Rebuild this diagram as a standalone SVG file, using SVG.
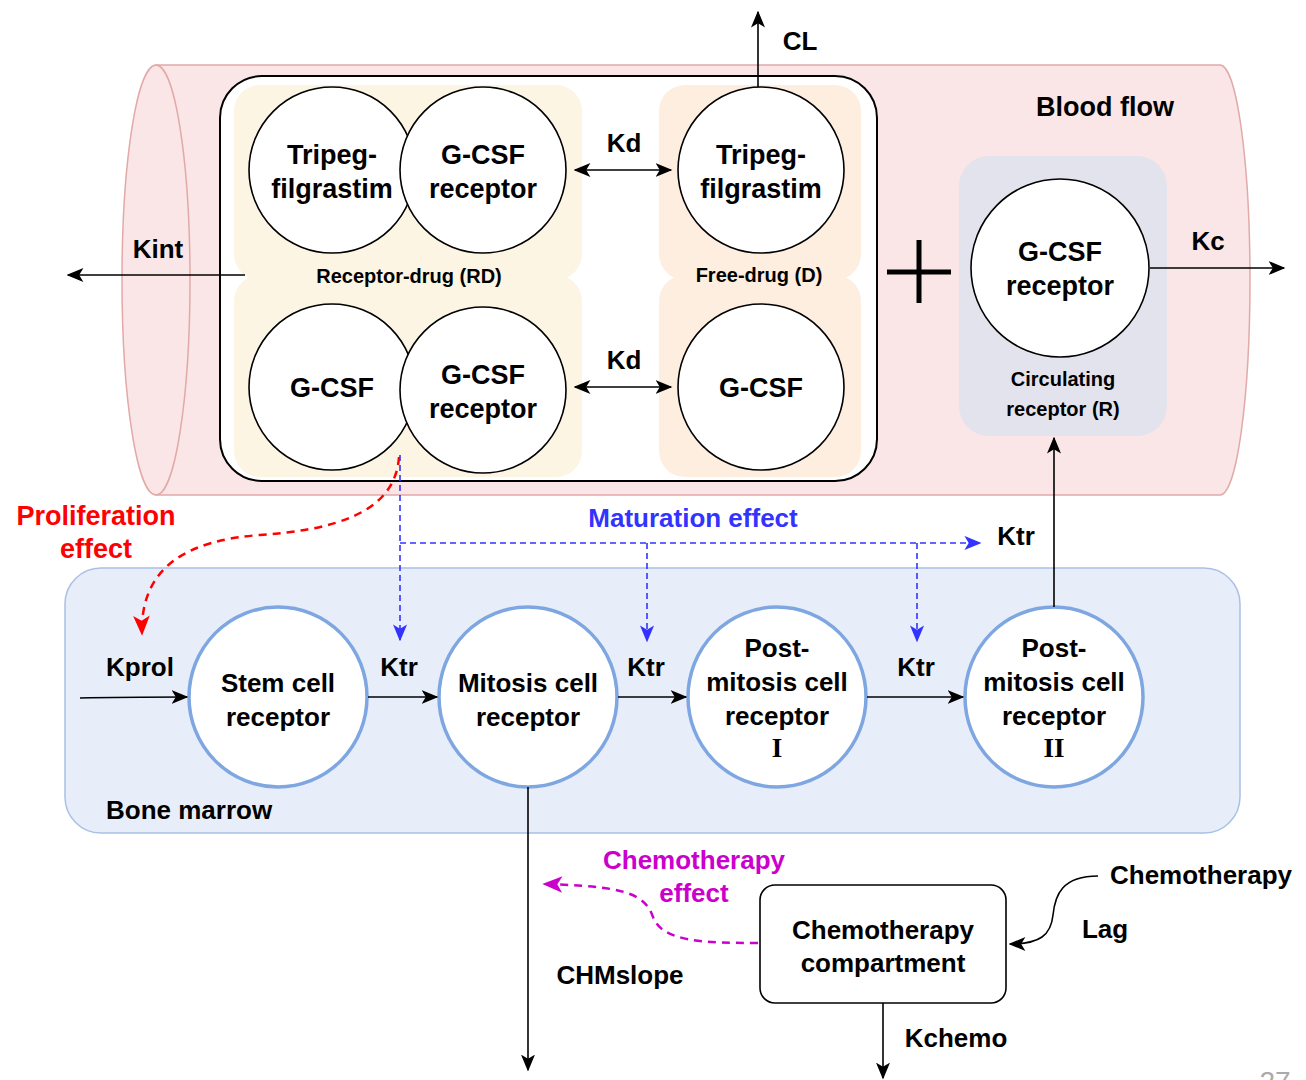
<svg xmlns="http://www.w3.org/2000/svg" width="1306" height="1080" viewBox="0 0 1306 1080">
<defs>
<style>
text{font-family:"Liberation Sans",Arial,sans-serif;font-weight:bold;text-anchor:middle;fill:#000}
.t27{font-size:27px}
.t26{font-size:26px}
.t20{font-size:20px}
.rn{font-family:"Liberation Serif","Times New Roman",serif;font-size:27px}
.circ{fill:#fff;stroke:#000;stroke-width:1.6}
.bm{fill:#fff;stroke:#7ea6e0;stroke-width:3.5}
.ln{fill:none;stroke:#000;stroke-width:1.6}
.blue{fill:none;stroke:#3333ff;stroke-width:1.6;stroke-dasharray:6 4}
.red{fill:none;stroke:#ff0000;stroke-width:2.5;stroke-dasharray:8 6}
.mag{fill:none;stroke:#cc00cc;stroke-width:2.5;stroke-dasharray:8 6}
</style>
<marker id="ak" viewBox="0 0 12 10" refX="11" refY="5" markerWidth="17" markerHeight="14" markerUnits="userSpaceOnUse" orient="auto-start-reverse"><path d="M0,0 L12,5 L0,10 L3,5 Z" fill="#000"/></marker>
<marker id="ab" viewBox="0 0 12 10" refX="11" refY="5" markerWidth="17" markerHeight="15" markerUnits="userSpaceOnUse" orient="auto"><path d="M0,0 L12,5 L0,10 L3,5 Z" fill="#3333ff"/></marker>
<marker id="ar" viewBox="0 0 12 10" refX="11" refY="5" markerWidth="20" markerHeight="17" markerUnits="userSpaceOnUse" orient="auto"><path d="M0,0 L12,5 L0,10 L3,5 Z" fill="#ff0000"/></marker>
<marker id="am" viewBox="0 0 12 10" refX="11" refY="5" markerWidth="20" markerHeight="17" markerUnits="userSpaceOnUse" orient="auto"><path d="M0,0 L12,5 L0,10 L3,5 Z" fill="#cc00cc"/></marker>
</defs>
<rect width="1306" height="1080" fill="#fff"/>

<g id="blood-flow">
<path d="M156,65 L1220,65 A30,215 0 0 1 1220,495 L156,495 Z" fill="#fae6e6" stroke="#e2a9a9" stroke-width="1.5"/>
<ellipse cx="156" cy="280" rx="34" ry="215" fill="#fae6e6" stroke="#e2a9a9" stroke-width="1.5"/>
<text class="t27" x="1105" y="116">Blood flow</text>
</g>

<g id="drug-complex">
<rect x="220" y="76" width="657" height="405" rx="42" fill="#fff" stroke="#000" stroke-width="2"/>
</g>

<g id="receptor-drug">
<rect x="234" y="85" width="348" height="195" rx="26" fill="#fdf5e3"/>
<rect x="234" y="275" width="348" height="202" rx="26" fill="#fdf5e3"/>
<rect x="260" y="260" width="296" height="30" fill="#fdf5e3"/>
<text class="t20" x="409" y="283">Receptor-drug (RD)</text>
</g>

<g id="free-drug">
<rect x="659" y="85" width="202" height="195" rx="26" fill="#fdeee0"/>
<rect x="659" y="275" width="202" height="202" rx="26" fill="#fdeee0"/>
<rect x="685" y="260" width="150" height="30" fill="#fdeee0"/>
<text class="t20" x="759" y="282">Free-drug (D)</text>
</g>

<g id="tripeg-rd">
<circle class="circ" cx="332" cy="170" r="83"/>
<text class="t27" x="332" y="164">Tripeg-</text>
<text class="t27" x="332" y="198">filgrastim</text>
</g>
<g id="gcsf-receptor-rd1">
<circle class="circ" cx="483" cy="170" r="83"/>
<text class="t27" x="483" y="164">G-CSF</text>
<text class="t27" x="483" y="198">receptor</text>
</g>
<g id="gcsf-rd">
<circle class="circ" cx="332" cy="387" r="83"/>
<text class="t27" x="332" y="397">G-CSF</text>
</g>
<g id="gcsf-receptor-rd2">
<circle class="circ" cx="483" cy="390" r="83"/>
<text class="t27" x="483" y="384">G-CSF</text>
<text class="t27" x="483" y="418">receptor</text>
</g>
<g id="tripeg-free">
<circle class="circ" cx="761" cy="170" r="83"/>
<text class="t27" x="761" y="164">Tripeg-</text>
<text class="t27" x="761" y="198">filgrastim</text>
</g>
<g id="gcsf-free">
<circle class="circ" cx="761" cy="387" r="83"/>
<text class="t27" x="761" y="397">G-CSF</text>
</g>

<g id="plus">
<path d="M887,272 L951,272 M919,240 L919,303" stroke="#000" stroke-width="5" fill="none"/>
</g>

<g id="circulating-receptor">
<rect x="959" y="156" width="208" height="280" rx="30" fill="#e3e3ee"/>
<circle class="circ" cx="1060" cy="268" r="89"/>
<text class="t27" x="1060" y="261">G-CSF</text>
<text class="t27" x="1060" y="295">receptor</text>
<text class="t20" x="1063" y="386">Circulating</text>
<text class="t20" x="1063" y="416">receptor (R)</text>
</g>

<g id="bone-marrow">
<rect x="65" y="568" width="1175" height="265" rx="36" fill="#e8eef9" stroke="#a9c0e6" stroke-width="1.5"/>
<text class="t26" x="106" y="819" style="text-anchor:start">Bone marrow</text>
</g>

<g id="stem-cell">
<ellipse class="bm" cx="278" cy="697" rx="89" ry="90"/>
<text class="t26" x="278" y="692">Stem cell</text>
<text class="t26" x="278" y="726">receptor</text>
</g>
<g id="mitosis-cell">
<ellipse class="bm" cx="528" cy="697" rx="89" ry="90"/>
<text class="t26" x="528" y="692">Mitosis cell</text>
<text class="t26" x="528" y="726">receptor</text>
</g>
<g id="post-mitosis-1">
<ellipse class="bm" cx="777" cy="697" rx="89" ry="90"/>
<text class="t26" x="777" y="657">Post-</text>
<text class="t26" x="777" y="691">mitosis cell</text>
<text class="t26" x="777" y="725">receptor</text>
<text class="rn" x="777" y="757">I</text>
</g>
<g id="post-mitosis-2">
<ellipse class="bm" cx="1054" cy="697" rx="89" ry="90"/>
<text class="t26" x="1054" y="657">Post-</text>
<text class="t26" x="1054" y="691">mitosis cell</text>
<text class="t26" x="1054" y="725">receptor</text>
<text class="rn" x="1054" y="757">II</text>
</g>

<g id="chemo-compartment">
<rect x="760" y="885" width="246" height="118" rx="15" fill="#fff" stroke="#000" stroke-width="1.6"/>
<text class="t26" x="883" y="939">Chemotherapy</text>
<text class="t26" x="883" y="972">compartment</text>
</g>

<g id="connectors">
<path class="ln" d="M575,170 L671,170" marker-start="url(#ak)" marker-end="url(#ak)"/>
<path class="ln" d="M575,387 L671,387" marker-start="url(#ak)" marker-end="url(#ak)"/>
<path class="ln" d="M758,87 L758,12" marker-end="url(#ak)"/>
<path class="ln" d="M245,275 L68,275" marker-end="url(#ak)"/>
<path class="ln" d="M1150,268 L1284,268" marker-end="url(#ak)"/>
<path class="ln" d="M1054,607 L1054,438" marker-end="url(#ak)"/>
<path class="ln" d="M80,698 C120,697 150,697 187,697" stroke-width="2" marker-end="url(#ak)"/>
<path class="ln" d="M368,697 L437,697" stroke-width="2" marker-end="url(#ak)"/>
<path class="ln" d="M618,697 L686,697" stroke-width="2" marker-end="url(#ak)"/>
<path class="ln" d="M867,697 L963,697" stroke-width="2" marker-end="url(#ak)"/>
<path class="ln" d="M528,787 L528,1070" marker-end="url(#ak)"/>
<path class="ln" d="M883,1003 L883,1078" marker-end="url(#ak)"/>
<path class="ln" d="M1098,876 C1062,876 1055,895 1053,915 C1051,935 1040,944 1010,944" marker-end="url(#ak)"/>
<path class="blue" d="M400,455 L400,640" marker-end="url(#ab)"/>
<path class="blue" d="M400,543 L980,543" marker-end="url(#ab)"/>
<path class="blue" d="M647,543 L647,641" marker-end="url(#ab)"/>
<path class="blue" d="M917,543 L917,641" marker-end="url(#ab)"/>
<path class="red" d="M399,457 C395,515 330,530 260,535 C190,540 140,565 142,634" marker-end="url(#ar)"/>
<path class="mag" d="M758,943 C705,943 662,942 653,917 C645,893 622,886 544,884" marker-end="url(#am)"/>
</g>

<g id="labels">
<text class="t26" x="624" y="152">Kd</text>
<text class="t26" x="624" y="369">Kd</text>
<text class="t26" x="800" y="50">CL</text>
<text class="t26" x="158" y="258">Kint</text>
<text class="t26" x="1208" y="250">Kc</text>
<text class="t27" x="96" y="525" style="fill:#ff0000">Proliferation</text>
<text class="t27" x="96" y="558" style="fill:#ff0000">effect</text>
<text class="t26" x="693" y="527" style="fill:#3333ff">Maturation effect</text>
<text class="t26" x="1016" y="545">Ktr</text>
<text class="t26" x="140" y="676">Kprol</text>
<text class="t26" x="399" y="676">Ktr</text>
<text class="t26" x="646" y="676">Ktr</text>
<text class="t26" x="916" y="676">Ktr</text>
<text class="t26" x="694" y="869" style="fill:#cc00cc">Chemotherapy</text>
<text class="t26" x="694" y="902" style="fill:#cc00cc">effect</text>
<text class="t26" x="620" y="984">CHMslope</text>
<text class="t26" x="1110" y="884" style="text-anchor:start">Chemotherapy</text>
<text class="t26" x="1105" y="938">Lag</text>
<text class="t26" x="956" y="1047">Kchemo</text>
<text x="1275" y="1091" style="font-size:28px;font-weight:normal;fill:#aaaaaa">27</text>
</g>
</svg>
